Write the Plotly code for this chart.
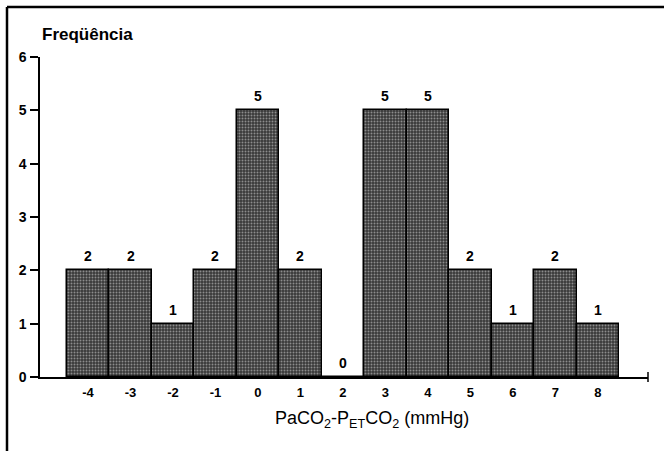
import plotly.graph_objects as go

categories = [-4, -3, -2, -1, 0, 1, 2, 3, 4, 5, 6, 7, 8]
frequencies = [2, 2, 1, 2, 5, 2, 0, 5, 5, 2, 1, 2, 1]
y_ticks = [0, 1, 2, 3, 4, 5, 6]

FONT = "Liberation Sans, Arial, sans-serif"

# plot area in page pixels
L, R, T, B = 40, 648, 57, 377
W, H = 664, 451
PW, PH = R - L, B - T

def px(x):
    return (x - L) / PW

def py(y):
    return (B - y) / PH

fig = go.Figure()
fig.add_trace(go.Bar(
    x=categories, y=frequencies, width=1,
    marker=dict(color="#4a4a4a", line=dict(color="black", width=1.5),
                pattern=dict(shape=".", bgcolor="#383838", fgcolor="#8c8c8c",
                             size=3, solidity=0.35, fillmode="replace")),
    showlegend=False, hoverinfo="skip",
))

for c, f in zip(categories, frequencies):
    fig.add_annotation(x=c, y=f, text=str(f), showarrow=False,
                       yanchor="bottom", yshift=4,
                       font=dict(family=FONT, size=14, color="black", weight="bold"))

fig.update_layout(
    width=W, height=H,
    margin=dict(l=L, r=W - R, t=T, b=H - B),
    paper_bgcolor="white", plot_bgcolor="white",
    bargap=0,
    xaxis=dict(range=[-5.13, 9.18], tickvals=categories, ticktext=[str(c) for c in categories],
               showgrid=False, zeroline=False, showline=True, linecolor="black", linewidth=2,
               ticks="", ticklabelstandoff=2,
               tickfont=dict(family=FONT, size=13, color="black", weight="bold")),
    yaxis=dict(range=[0, 6], tickvals=y_ticks, showgrid=False, zeroline=False,
               showline=True, linecolor="black", linewidth=1.5,
               ticks="outside", ticklen=8, tickwidth=1.5, tickcolor="black",
               ticklabelstandoff=1,
               tickfont=dict(family=FONT, size=14, color="black", weight="bold")),
)

# axis title and y label
fig.add_annotation(xref="paper", yref="paper", x=px(372), y=py(419),
                   text="PaCO<sub>2</sub>-P<sub>ET</sub>CO<sub>2</sub> (mmHg)", showarrow=False,
                   xanchor="center", yanchor="middle",
                   font=dict(family=FONT, size=18, color="black"))
fig.add_annotation(xref="paper", yref="paper", x=px(40), y=py(34),
                   text="Freqüência", showarrow=False, xanchor="left", yanchor="middle",
                   font=dict(family=FONT, size=17, color="black", weight="bold"))

# frame (top and left borders)
fig.add_shape(type="line", xref="paper", yref="paper", x0=px(7), x1=px(700),
              y0=py(7), y1=py(7), line=dict(color="black", width=2.5))
fig.add_shape(type="line", xref="paper", yref="paper", x0=px(7), x1=px(7),
              y0=py(7), y1=py(480), line=dict(color="black", width=2.5))
# end tick on x axis
fig.add_shape(type="line", xref="paper", yref="paper", x0=1, x1=1,
              y0=py(382), y1=py(372), line=dict(color="black", width=1.5))

fig.write_html("out.html", config={"displayModeBar": False},
               post_script="document.body.style.margin='0';")
